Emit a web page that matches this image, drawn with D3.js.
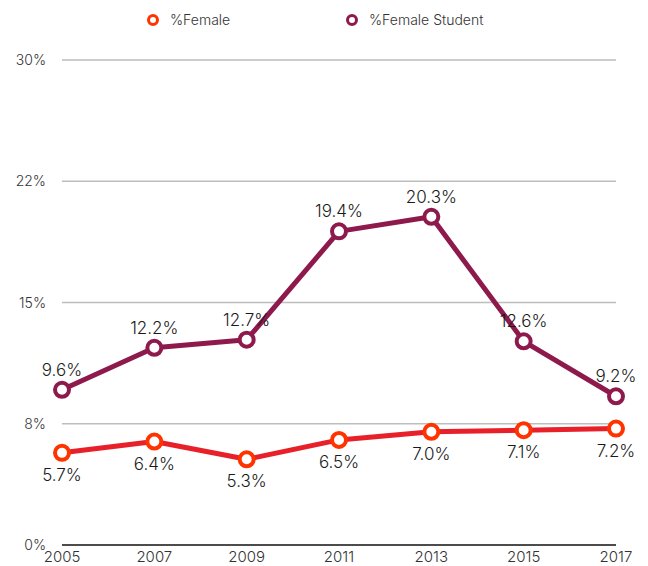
<!DOCTYPE html>
<html>
<head>
<meta charset="utf-8">
<script src="https://cdn.jsdelivr.net/npm/d3@7"></script>
<style>
  body { margin: 0; background: #fff; }
  text { font-family: Inter, "Noto Sans", "DejaVu Sans", sans-serif; font-weight: 300; }
</style>
</head>
<body>
<script>
const years = [2005, 2007, 2009, 2011, 2013, 2015, 2017];
const female = [5.7, 6.4, 5.3, 6.5, 7.0, 7.1, 7.2];
const femaleStudent = [9.6, 12.2, 12.7, 19.4, 20.3, 12.6, 9.2];
const yTicks = [0, 7.5, 15, 22.5, 30];
const yTickLabels = ["0%", "8%", "15%", "22%", "30%"];

const width = 648, height = 566;
const margin = { top: 60, right: 32, bottom: 21, left: 62 };

const svg = d3.select("body").append("svg")
  .attr("width", width)
  .attr("height", height);

const x = d3.scalePoint()
  .domain(years)
  .range([margin.left, width - margin.right]);

const y = d3.scaleLinear()
  .domain([0, 30])
  .range([height - margin.bottom, margin.top]);

// Gridlines and y labels
const grid = svg.append("g");
grid.selectAll("line")
  .data(yTicks.slice(1))
  .join("line")
  .attr("x1", margin.left)
  .attr("x2", width - margin.right)
  .attr("y1", (d) => y(d))
  .attr("y2", (d) => y(d))
  .attr("stroke", "#bdbdbd")
  .attr("stroke-width", 1.5);

grid.selectAll("text")
  .data(yTicks)
  .join("text")
  .attr("x", 46)
  .attr("y", (d) => y(d) + 5)
  .attr("text-anchor", "end")
  .attr("font-size", 14)
  .attr("fill", "#333")
  .text((d, i) => yTickLabels[i]);

// X axis
svg.append("line")
  .attr("x1", margin.left)
  .attr("x2", width - margin.right)
  .attr("y1", y(0))
  .attr("y2", y(0))
  .attr("stroke", "#111")
  .attr("stroke-width", 1.5);

svg.append("g").selectAll("text")
  .data(years)
  .join("text")
  .attr("x", (d) => x(d))
  .attr("y", y(0) + 17)
  .attr("text-anchor", "middle")
  .attr("font-size", 15)
  .attr("fill", "#333")
  .text((d) => d);

const series = [
  { name: "%Female", values: female, line: "#e8202a", marker: "#ff3300", dy: 28 },
  { name: "%Female Student", values: femaleStudent, line: "#8e1a4d", marker: "#8e1a4d", dy: -14 }
];

const line = d3.line()
  .x((d, i) => x(years[i]))
  .y((d) => y(d));

for (const s of series) {
  const g = svg.append("g");
  g.append("path")
    .datum(s.values)
    .attr("d", line)
    .attr("fill", "none")
    .attr("stroke", s.line)
    .attr("stroke-width", 5)
    .attr("stroke-linejoin", "round");

  g.selectAll("circle")
    .data(s.values)
    .join("circle")
    .attr("cx", (d, i) => x(years[i]))
    .attr("cy", (d) => y(d))
    .attr("r", 7)
    .attr("fill", "#fff")
    .attr("stroke", s.marker)
    .attr("stroke-width", 4);

  g.selectAll("text")
    .data(s.values)
    .join("text")
    .attr("x", (d, i) => x(years[i]))
    .attr("y", (d) => y(d) + s.dy)
    .attr("text-anchor", "middle")
    .attr("font-size", 17)
    .attr("fill", "#1a1a1a")
    .text((d) => d.toFixed(1) + "%");
}

// Legend
const legend = svg.append("g")
  .selectAll("g")
  .data(series)
  .join("g")
  .attr("transform", (d, i) => "translate(" + [153, 352][i] + ",20)");

legend.append("circle")
  .attr("r", 4.5)
  .attr("fill", "#fff")
  .attr("stroke", (d) => d.marker)
  .attr("stroke-width", 3);

legend.append("text")
  .attr("x", 17)
  .attr("y", 5)
  .attr("font-size", 14)
  .attr("fill", "#333")
  .text((d) => d.name);
</script>
</body>
</html>
